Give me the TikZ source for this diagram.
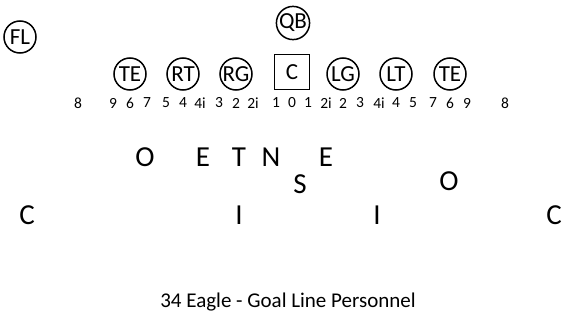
\documentclass[tikz,border=0pt]{standalone}
\usepackage{fontspec}
\setmainfont{Carlito}
\usetikzlibrary{positioning}
\tikzset{
  fb/player/.style={draw, circle, line width=1.5pt, minimum size=32pt, inner sep=0pt, font=\fontsize{23}{23}\selectfont},
  fb/center/.style={draw, rectangle, line width=1.7pt, minimum size=35pt, inner sep=0pt, font=\fontsize{23}{23}\selectfont},
  fb/gap/.style={inner sep=0pt, font=\fontsize{15.5}{15.5}\selectfont},
  fb/tech/.style={inner sep=0pt, font=\fontsize{29}{29}\selectfont},
  fb/caption/.style={inner sep=0pt, font=\fontsize{21}{21}\selectfont}
}

\begin{document}
\begin{tikzpicture}[x=1pt, y=-1pt]
  \useasboundingbox (0,0) rectangle (581,326);
  % offense
  \node[fb/player] (fl) at (20,37) {FL};
  \node[fb/player] (qb) at (293,23) {QB};
  \node[fb/center] (c) at (292,72) {C};
  \node[fb/player] (lte) at (130,74) {TE};
  \node[fb/player] (rt) at (183,74) {RT};
  \node[fb/player] (rg) at (236,74) {RG};
  \node[fb/player] (lg) at (343,74) {LG};
  \node[fb/player] (lt) at (396,74) {LT};
  \node[fb/player] (rte) at (450,74) {TE};
  % gap numbers
  \node[fb/gap] (g8l) at (78,103) {8};
  \node[fb/gap] (g9l) at (113,103) {9};
  \node[fb/gap] (g6l) at (130,103) {6};
  \node[fb/gap] (g7l) at (147,103) {7};
  \node[fb/gap] (g5l) at (166,103) {5};
  \node[fb/gap] (g4l) at (183,103) {4};
  \node[fb/gap] (g4il) at (200,103) {4i};
  \node[fb/gap] (g3l) at (219,103) {3};
  \node[fb/gap] (g2l) at (236,103) {2};
  \node[fb/gap] (g2il) at (253,103) {2i};
  \node[fb/gap] (g1l) at (276,103) {1};
  \node[fb/gap] (g0) at (292,103) {0};
  \node[fb/gap] (g1r) at (308,103) {1};
  \node[fb/gap] (g2ir) at (326,103) {2i};
  \node[fb/gap] (g2r) at (343,103) {2};
  \node[fb/gap] (g3r) at (360,103) {3};
  \node[fb/gap] (g4ir) at (379,103) {4i};
  \node[fb/gap] (g4r) at (396,103) {4};
  \node[fb/gap] (g5r) at (413,103) {5};
  \node[fb/gap] (g7r) at (433,103) {7};
  \node[fb/gap] (g6r) at (450,103) {6};
  \node[fb/gap] (g9r) at (467,103) {9};
  \node[fb/gap] (g8r) at (505,103) {8};
  % defense
  \node[fb/tech] (o1) at (145,157) {O};
  \node[fb/tech] (e1) at (203,157) {E};
  \node[fb/tech] (t1) at (239,157) {T};
  \node[fb/tech] (n1) at (271,157) {N};
  \node[fb/tech] (e2) at (326,157) {E};
  \node[fb/tech] (s1) at (300,184) {S};
  \node[fb/tech] (o2) at (449,181) {O};
  \node[fb/tech] (c1) at (27,215) {C};
  \node[fb/tech] (i1) at (239,215) {I};
  \node[fb/tech] (i2) at (377,215) {I};
  \node[fb/tech] (c2) at (554,215) {C};
  \node[fb/caption] (title) at (288,302) {34 Eagle - Goal Line Personnel};
\end{tikzpicture}
\end{document}
